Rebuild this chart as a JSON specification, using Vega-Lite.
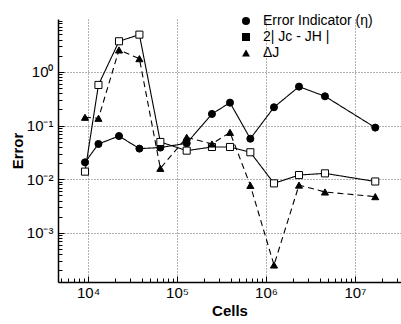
{
  "$schema": "https://vega.github.io/schema/vega-lite/v6.json",
  "width": 343,
  "height": 263,
  "autosize": {"type": "none"},
  "padding": {"left": 58, "top": 19, "right": 0, "bottom": 42},
  "background": "white",
  "config": {"view": {"stroke": null}, "font": "Liberation Sans"},
  "data": {
    "values": [
      {"cells": 9250, "value": 0.0207, "series": "Error Indicator (η)"},
      {"cells": 13100, "value": 0.0455, "series": "Error Indicator (η)"},
      {"cells": 22300, "value": 0.064, "series": "Error Indicator (η)"},
      {"cells": 37800, "value": 0.0373, "series": "Error Indicator (η)"},
      {"cells": 65000, "value": 0.039, "series": "Error Indicator (η)"},
      {"cells": 128500, "value": 0.047, "series": "Error Indicator (η)"},
      {"cells": 247000, "value": 0.165, "series": "Error Indicator (η)"},
      {"cells": 394000, "value": 0.268, "series": "Error Indicator (η)"},
      {"cells": 667000, "value": 0.057, "series": "Error Indicator (η)"},
      {"cells": 1230000, "value": 0.22, "series": "Error Indicator (η)"},
      {"cells": 2350000, "value": 0.533, "series": "Error Indicator (η)"},
      {"cells": 4600000, "value": 0.352, "series": "Error Indicator (η)"},
      {"cells": 16900000, "value": 0.0918, "series": "Error Indicator (η)"},
      {"cells": 9250, "value": 0.0139, "series": "2| Jc - JH |"},
      {"cells": 13100, "value": 0.573, "series": "2| Jc - JH |"},
      {"cells": 22300, "value": 3.73, "series": "2| Jc - JH |"},
      {"cells": 37800, "value": 4.96, "series": "2| Jc - JH |"},
      {"cells": 65000, "value": 0.0496, "series": "2| Jc - JH |"},
      {"cells": 128500, "value": 0.0342, "series": "2| Jc - JH |"},
      {"cells": 247000, "value": 0.04, "series": "2| Jc - JH |"},
      {"cells": 394000, "value": 0.04, "series": "2| Jc - JH |"},
      {"cells": 667000, "value": 0.0319, "series": "2| Jc - JH |"},
      {"cells": 1230000, "value": 0.0084, "series": "2| Jc - JH |"},
      {"cells": 2350000, "value": 0.012, "series": "2| Jc - JH |"},
      {"cells": 4600000, "value": 0.0129, "series": "2| Jc - JH |"},
      {"cells": 16900000, "value": 0.0091, "series": "2| Jc - JH |"},
      {"cells": 9250, "value": 0.143, "series": "ΔJ"},
      {"cells": 13100, "value": 0.137, "series": "ΔJ"},
      {"cells": 22300, "value": 2.57, "series": "ΔJ"},
      {"cells": 37800, "value": 1.77, "series": "ΔJ"},
      {"cells": 65000, "value": 0.016, "series": "ΔJ"},
      {"cells": 128500, "value": 0.0606, "series": "ΔJ"},
      {"cells": 247000, "value": 0.0455, "series": "ΔJ"},
      {"cells": 394000, "value": 0.075, "series": "ΔJ"},
      {"cells": 667000, "value": 0.0077, "series": "ΔJ"},
      {"cells": 1230000, "value": 0.000253, "series": "ΔJ"},
      {"cells": 2350000, "value": 0.0078, "series": "ΔJ"},
      {"cells": 4600000, "value": 0.0058, "series": "ΔJ"},
      {"cells": 16900000, "value": 0.00475, "series": "ΔJ"}
    ]
  },
  "encoding": {
    "x": {
      "field": "cells",
      "type": "quantitative",
      "scale": {"type": "log", "domain": [4600, 32900000], "nice": false},
      "axis": {
        "title": "Cells",
        "titleFont": "Liberation Sans",
        "titleFontSize": 15,
        "titleFontWeight": "bold",
        "titleColor": "black",
        "titlePadding": 1,
        "values": [5000, 6000, 7000, 8000, 9000, 10000, 20000, 30000, 40000, 50000, 60000, 70000, 80000, 90000, 100000, 200000, 300000, 400000, 500000, 600000, 700000, 800000, 900000, 1000000, 2000000, 3000000, 4000000, 5000000, 6000000, 7000000, 8000000, 9000000, 10000000, 20000000, 30000000],
        "labelExpr": "abs(log(datum.value)/LN10 - round(log(datum.value)/LN10)) < 1e-6 ? '10' + ['⁴','⁵','⁶','⁷'][round(log(datum.value)/LN10) - 4] : ''",
        "labelFont": "Liberation Sans",
        "labelFontSize": 15,
        "labelColor": "black",
        "labelPadding": 9,
        "labelOverlap": false,
        "labelFlush": false,
        "tickSize": {"condition": {"test": "abs(log(datum.value)/LN10 - round(log(datum.value)/LN10)) < 1e-6", "value": -6}, "value": -4},
        "tickColor": "black",
        "tickWidth": 1,
        "domainColor": "black",
        "domainWidth": 1.5,
        "grid": true,
        "gridColor": "#666",
        "gridDash": [1, 2],
        "gridWidth": 1,
        "gridOpacity": {"condition": {"test": "abs(log(datum.value)/LN10 - round(log(datum.value)/LN10)) < 1e-6", "value": 1}, "value": 0}
      }
    },
    "y": {
      "field": "value",
      "type": "quantitative",
      "scale": {"type": "log", "domain": [0.000122, 9.7], "nice": false},
      "axis": {
        "title": "Error",
        "titleFont": "Liberation Sans",
        "titleFontSize": 15,
        "titleFontWeight": "bold",
        "titleColor": "black",
        "titlePadding": 1,
        "values": [0.0002, 0.0003, 0.0004, 0.0005, 0.0006, 0.0007, 0.0008, 0.0009, 0.001, 0.002, 0.003, 0.004, 0.005, 0.006, 0.007, 0.008, 0.009, 0.01, 0.02, 0.03, 0.04, 0.05, 0.06, 0.07, 0.08, 0.09, 0.1, 0.2, 0.3, 0.4, 0.5, 0.6, 0.7, 0.8, 0.9, 1, 2, 3, 4, 5, 6, 7, 8, 9],
        "labelExpr": "abs(log(datum.value)/LN10 - round(log(datum.value)/LN10)) < 1e-6 ? '10' + ['⁻³','⁻²','⁻¹','⁰'][round(log(datum.value)/LN10) + 3] : ''",
        "labelFont": "Liberation Sans",
        "labelFontSize": 15,
        "labelColor": "black",
        "labelPadding": 11,
        "labelOverlap": false,
        "labelFlush": false,
        "tickSize": {"condition": {"test": "abs(log(datum.value)/LN10 - round(log(datum.value)/LN10)) < 1e-6", "value": -6}, "value": -4},
        "tickColor": "black",
        "tickWidth": 1,
        "domainColor": "black",
        "domainWidth": 1.5,
        "grid": true,
        "gridColor": "#666",
        "gridDash": [1, 2],
        "gridWidth": 1,
        "gridOpacity": {"condition": {"test": "abs(log(datum.value)/LN10 - round(log(datum.value)/LN10)) < 1e-6", "value": 1}, "value": 0}
      }
    }
  },
  "layer": [
    {
      "mark": {"type": "line", "color": "black", "strokeWidth": 1.1},
      "encoding": {
        "detail": {"field": "series", "type": "nominal"},
        "strokeDash": {"condition": {"test": "datum.series === 'ΔJ'", "value": [6, 4]}, "value": [1, 0]}
      }
    },
    {
      "mark": {"type": "point", "filled": true, "stroke": "black", "strokeWidth": 1, "opacity": 1, "size": 50},
      "encoding": {
        "fill": {"condition": {"test": "datum.series === '2| Jc - JH |'", "value": "white"}, "value": "black"},
        "shape": {
          "field": "series",
          "type": "nominal",
          "scale": {"domain": ["Error Indicator (η)", "2| Jc - JH |", "ΔJ"], "range": ["circle", "square", "triangle-up"]},
          "legend": {
            "orient": "none",
            "legendX": 181,
            "legendY": -5,
            "title": null,
            "padding": 0,
            "labelFont": "Liberation Sans",
            "labelFontSize": 14,
            "labelColor": "black",
            "labelOffset": 10,
            "symbolSize": 64,
            "rowPadding": 2,
            "symbolStrokeWidth": 1,
            "symbolStrokeColor": "black"
          }
        }
      }
    }
  ]
}
